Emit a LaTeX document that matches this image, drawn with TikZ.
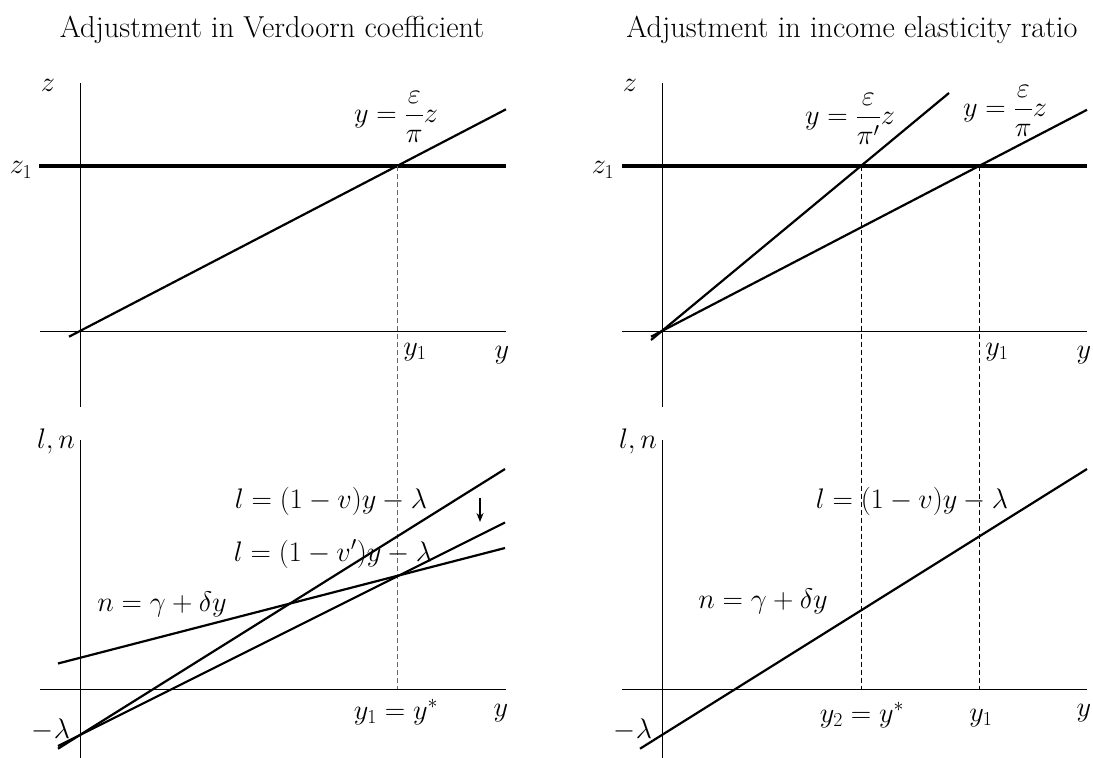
\RequirePackage{fix-cm}
\documentclass[tikz,border=0pt]{standalone}
\usepackage{amsmath}
\usetikzlibrary{arrows.meta}
\tikzset{
  ax/.style={line width=1pt},
  crv/.style={line width=2.2pt},
  thk/.style={line width=3.6pt},
  dsh/.style={line width=0.9pt, dash pattern=on 5pt off 3pt},
  lbl/.style={inner sep=0pt, font=\fontsize{28.3}{33}\selectfont},
  ttl/.style={inner sep=0pt, anchor=base, font=\fontsize{30.3}{36}\selectfont},
}
\begin{document}
\begin{tikzpicture}[x=1pt,y=-1pt]
\useasboundingbox (0,0) rectangle (1093,758);
% ---------------- titles
\node[ttl] (tL) at (272,37) {Adjustment in Verdoorn coefficient};
\node[ttl] (tR) at (852,37) {Adjustment in income elasticity ratio};

% ---------------- left panel coordinates
\coordinate (LvT1) at (80,83);   \coordinate (LvT2) at (80,407);
\coordinate (LvB1) at (80,440);  \coordinate (LvB2) at (80,758);
\coordinate (LhT1) at (40,331);  \coordinate (LhT2) at (506,331);
\coordinate (LhB1) at (40,689);  \coordinate (LhB2) at (506,689);
\coordinate (Lz1a) at (39,166);  \coordinate (Lz1b) at (506,166);
\coordinate (Lza) at (69,336.7); \coordinate (Lzb) at (506,109.3);
\coordinate (Ld1) at (397,166);  \coordinate (Ld2) at (397,689);
\coordinate (Lla) at (58,748.7); \coordinate (Llb) at (505,469);
\coordinate (Lpa) at (58,746);   \coordinate (Lpb) at (505,522.5);
\coordinate (Lna) at (58,663.5); \coordinate (Lnb) at (505,548);
\coordinate (Ara) at (480,498);  \coordinate (Arb) at (480,522);

\draw[ax] (LvT1) -- (LvT2);
\draw[ax] (LvB1) -- (LvB2);
\draw[ax] (LhT1) -- (LhT2);
\draw[ax] (LhB1) -- (LhB2);
\draw[thk] (Lz1a) -- (Lz1b);
\draw[crv] (Lza) -- (Lzb);
\draw[dsh, black!60] (Ld1) -- (Ld2);
\draw[crv] (Lla) -- (Llb);
\draw[crv] (Lpa) -- (Lpb);
\draw[crv] (Lna) -- (Lnb);
\draw[line width=1.5pt, -{Stealth[length=9pt,width=7pt]}] (Ara) -- (Arb);

\node[lbl] (Lz) at (48,85) {$z$};
\node[lbl] (Lz1) at (21,170) {$z_1$};
\node[lbl] (Lfz) at (396,117) {$\displaystyle y=\frac{\varepsilon}{\pi}z$};
\node[lbl] (Ly1) at (415,352) {$y_1$};
\node[lbl] (LyT) at (502,355) {$y$};
\node[lbl] (Lln) at (56,441) {$l,n$};
\node[lbl] (Leq1) at (331,501) {$l=(1-v)y-\lambda$};
\node[lbl] (Leq2) at (333,554) {$l=(1-v')y-\lambda$};
\node[lbl] (Leqn) at (162,604) {$n=\gamma+\delta y$};
\node[lbl] (Llam) at (51,730) {$-\lambda$};
\node[lbl] (Lys) at (396,712) {$y_1=y^*$};
\node[lbl] (LyB) at (501,713) {$y$};

% ---------------- right panel coordinates
\coordinate (RvT1) at (662,83);   \coordinate (RvT2) at (662,407);
\coordinate (RvB1) at (662,440);  \coordinate (RvB2) at (662,758);
\coordinate (RhT1) at (622,331);  \coordinate (RhT2) at (1087,331);
\coordinate (RhB1) at (622,689);  \coordinate (RhB2) at (1087,689);
\coordinate (Rz1a) at (622,166);  \coordinate (Rz1b) at (1087,166);
\coordinate (Rpa) at (651,336.7); \coordinate (Rpb) at (1087,109.8);
\coordinate (Rqa) at (651,340);   \coordinate (Rqb) at (949,93);
\coordinate (Rd1a) at (861,166);  \coordinate (Rd1b) at (861,689);
\coordinate (Rd2a) at (979,166);  \coordinate (Rd2b) at (979,689);
\coordinate (Rla) at (640,748.7); \coordinate (Rlb) at (1087,469);

\draw[ax] (RvT1) -- (RvT2);
\draw[ax] (RvB1) -- (RvB2);
\draw[ax] (RhT1) -- (RhT2);
\draw[ax] (RhB1) -- (RhB2);
\draw[thk] (Rz1a) -- (Rz1b);
\draw[crv] (Rpa) -- (Rpb);
\draw[crv] (Rqa) -- (Rqb);
\draw[dsh] (Rd1a) -- (Rd1b);
\draw[dsh] (Rd2a) -- (Rd2b);
\draw[crv] (Rla) -- (Rlb);

\node[lbl] (Rz) at (630,85) {$z$};
\node[lbl] (Rz1) at (603,170) {$z_1$};
\node[lbl] (Rfq) at (850,119) {$\displaystyle y=\frac{\varepsilon}{\pi'}z$};
\node[lbl] (Rfp) at (1005,111) {$\displaystyle y=\frac{\varepsilon}{\pi}z$};
\node[lbl] (Ry1) at (997,352) {$y_1$};
\node[lbl] (RyT) at (1084,355) {$y$};
\node[lbl] (Rln) at (638,441) {$l,n$};
\node[lbl] (Req1) at (912,501) {$l=(1-v)y-\lambda$};
\node[lbl] (Reqn) at (763,601) {$n=\gamma+\delta y$};
\node[lbl] (Rlam) at (633,730) {$-\lambda$};
\node[lbl] (Rys) at (862,715) {$y_2=y^*$};
\node[lbl] (Ry1b) at (981,718) {$y_1$};
\node[lbl] (RyB) at (1084,713) {$y$};
\end{tikzpicture}
\end{document}
